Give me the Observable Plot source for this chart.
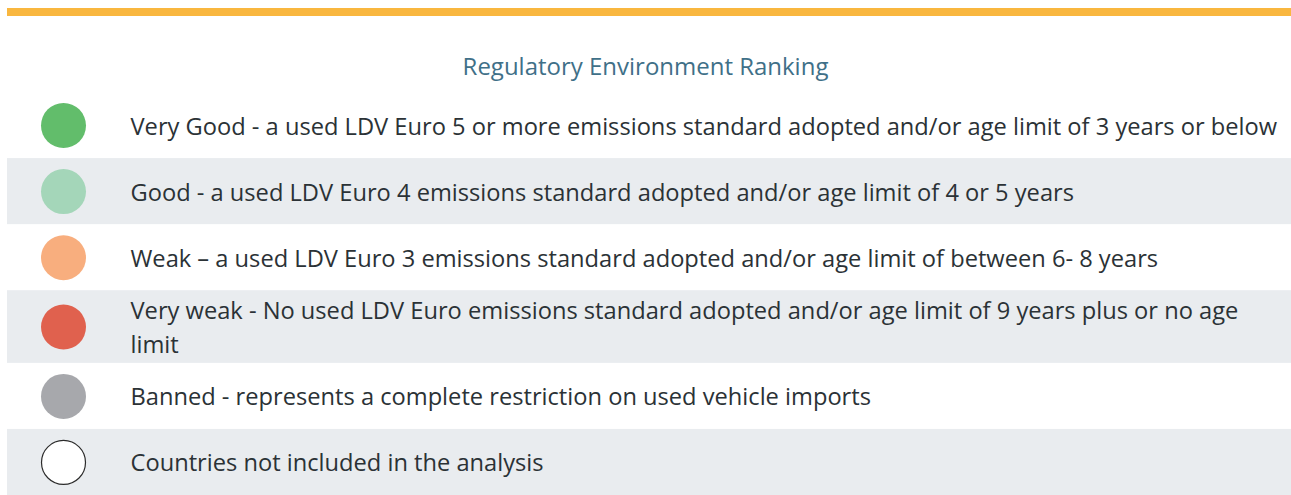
<!DOCTYPE html>
<html><head><meta charset="utf-8">
<script src="https://cdn.jsdelivr.net/npm/d3@7"></script>
<script src="https://cdn.jsdelivr.net/npm/@observablehq/plot@0.6"></script>
<style>
body{margin:0;background:#fff;font-family:"Open Sans",sans-serif;overflow:hidden;}
#rule{position:absolute;left:7px;top:8px;width:1284px;height:8px;background:#f9b73f;}
#title{position:absolute;top:49px;left:0;width:1291px;text-align:center;color:#3f7088;line-height:34px;white-space:nowrap}
#chart{position:absolute;top:92px;left:0}
</style></head><body>
<div id="rule"></div><div id="title"></div><div id="chart"></div>
<script>
const title = "Regulatory Environment Ranking";
const categories = ["Very Good", "Good", "Weak", "Very weak", "Banned", "Not included"];
const descriptions = [
  "Very Good - a used LDV Euro 5 or more emissions standard adopted and/or age limit of 3 years or below",
  "Good - a used LDV Euro 4 emissions standard adopted and/or age limit of 4 or 5 years",
  "Weak \u2013 a used LDV Euro 3 emissions standard adopted and/or age limit of between 6- 8 years",
  "Very weak - No used LDV Euro emissions standard adopted and/or age limit of 9 years plus or no age\nlimit",
  "Banned - represents a complete restriction on used vehicle imports",
  "Countries not included in the analysis"
];
const colors = ["#62bd6b", "#a4d6b9", "#f8ae7e", "#e0614e", "#a7a8ac", "#ffffff"];

// rows stacked top to bottom; a wrapped description makes its row a little taller
let acc = 0;
const rows = categories.map((c, i) => {
  const lines = descriptions[i].split("\n").length;
  const size = 1 + 0.1 * (lines - 1);
  const r = {category: c, text: descriptions[i], shaded: i % 2 === 1, y1: acc, y2: acc + size, mid: acc + size / 2};
  acc += size;
  return r;
});
const total = acc;

// fit font sizes to the reference widths
const ctx = document.createElement("canvas").getContext("2d");
function fit(str, target, family) {
  ctx.font = `100px ${family}`;
  return 100 * target / ctx.measureText(str).width;
}
const fam = '"Open Sans"';
const bodySize = fit(descriptions[0], 1147, fam);
const titleSize = fit(title, 366, fam);

const t = document.getElementById("title");
t.textContent = title;
t.style.fontSize = titleSize + "px";

const chart = Plot.plot({
  width: 1291,
  height: 403,
  marginLeft: 7, marginRight: 0, marginTop: 0, marginBottom: 0,
  style: {fontFamily: '"Open Sans", sans-serif', background: "transparent"},
  x: {domain: [0, 1], axis: null},
  y: {domain: [total, 0], axis: null},
  color: {domain: categories, range: colors},
  marks: [
    Plot.rect(rows.filter(d => d.shaded), {y1: "y1", y2: "y2", x1: 0, x2: 1, fill: "#e9ecef"}),
    Plot.dot(rows, {y: "mid", frameAnchor: "left", dx: 56, r: 22.5, fill: "category"}),
    Plot.dot(rows.filter(d => d.category === "Not included"), {y: "mid", frameAnchor: "left", dx: 56, r: 22, stroke: "#2b2b2b", strokeWidth: 1.2, fill: "none"}),
    Plot.text(rows, {y: "mid", text: "text", frameAnchor: "left", dx: 123, dy: -2, textAnchor: "start",
      fontSize: bodySize, fill: "#2b3236", lineHeight: 1.45})
  ]
});
document.getElementById("chart").append(chart);
</script>
</body></html>
